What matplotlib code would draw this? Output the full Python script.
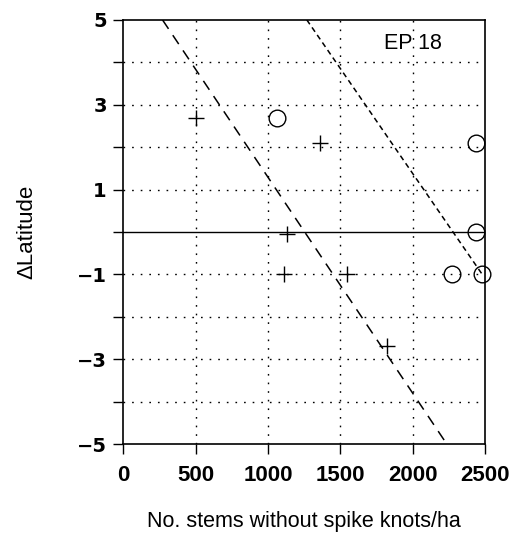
import numpy as np
import matplotlib
matplotlib.use("Agg")
import matplotlib.pyplot as plt

plt.rcParams['font.family'] = ['Liberation Sans', 'DejaVu Sans']

# Data
cross_x = [500, 1360, 1130, 1110, 1545, 1820]
cross_y = [2.7, 2.1, -0.05, -1.0, -1.0, -2.7]
circle_x = [1060, 2440, 2440, 2275, 2478]
circle_y = [2.7, 2.1, 0.0, -1.0, -1.0]

# Fitted regression lines (intercept, slope, x-start, x-end)
long_line = dict(a=6.38, b=-0.00509, x0=271, x1=2235)
short_line = dict(a=11.28, b=-0.00495, x0=1268, x1=2478)

xticks = [0, 500, 1000, 1500, 2000, 2500]
yticks_major = [-5, -3, -1, 1, 3, 5]
yticks_minor = [-4, -2, 0, 2, 4]

fig = plt.figure(figsize=(5.14, 5.36), dpi=100)
ax = fig.add_axes([0.240, 0.1716, 0.7036, 0.7911])

ax.set_xlim(0, 2500)
ax.set_ylim(-5, 5)

# Grid
grid_style = dict(color='black', linewidth=1.0, linestyle=(0, (1.2, 5)), zorder=1)
for gx in xticks[1:-1]:
    ax.axvline(gx, **grid_style)
for gy in [-4, -3, -2, -1, 1, 2, 3, 4]:
    ax.axhline(gy, **grid_style)
ax.axhline(0, color='black', linewidth=1.0, zorder=2)

# Regression lines
xl = np.linspace(long_line['x0'], long_line['x1'], 50)
ax.plot(xl, long_line['a'] + long_line['b'] * xl, color='black', lw=1.1,
        linestyle=(0, (7, 5)), zorder=3)
xs = np.linspace(short_line['x0'], short_line['x1'], 50)
ax.plot(xs, short_line['a'] + short_line['b'] * xs, color='black', lw=1.1,
        linestyle=(0, (3.5, 2.5)), zorder=3)

# Points
ax.plot(cross_x, cross_y, linestyle='none', marker='+', markersize=11,
        markeredgewidth=1.0, color='black', zorder=4, clip_on=False)
ax.plot(circle_x, circle_y, linestyle='none', marker='o', markersize=12,
        markerfacecolor='none', markeredgewidth=1.0, color='black', zorder=4,
        clip_on=False)

ax.text(2000, 4.45, 'EP 18', ha='center', va='center', fontsize=15.5)

ax.set_xticks(xticks)
ax.set_yticks(yticks_major)
ax.set_yticks(yticks_minor, minor=True)
ax.set_yticklabels(['\u22125', '\u22123', '\u22121', '1', '3', '5'],
                   fontsize=14, fontweight='bold', family='DejaVu Sans')
ax.set_xticklabels([str(v) for v in xticks], fontsize=16, fontweight='bold')
ax.tick_params(axis='x', direction='out', length=7, width=1.0, pad=8)
ax.tick_params(axis='y', which='both', direction='out', length=7, width=1.0, pad=5)

for s in ax.spines.values():
    s.set_linewidth(1.2)

ax.set_xlabel('No. stems without spike knots/ha', fontsize=15.5, labelpad=18)
ax.set_ylabel('\u0394Latitude', fontsize=16, labelpad=28)

fig.savefig('out.png', dpi=100)
